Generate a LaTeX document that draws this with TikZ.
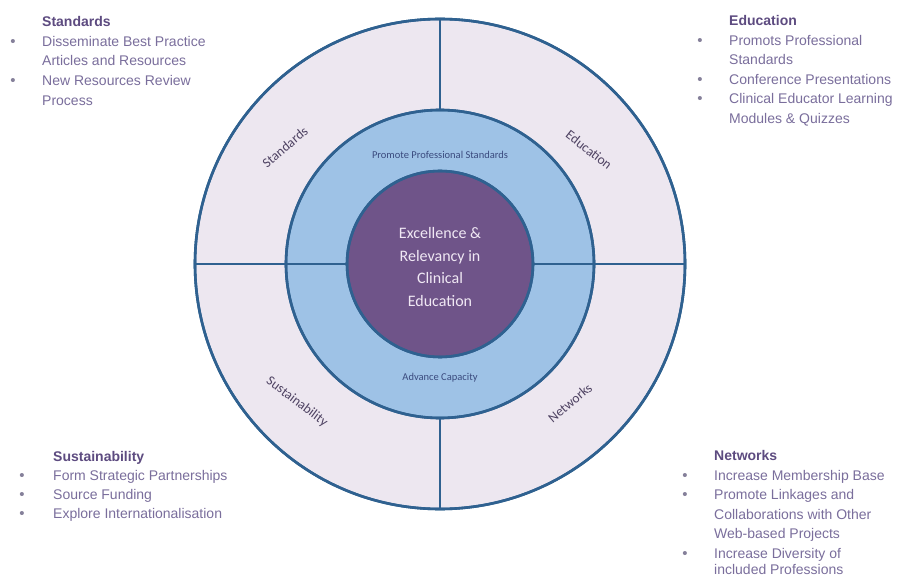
\documentclass[tikz,border=0pt]{standalone}
\usepackage{fontspec}
\setmainfont{Liberation Sans}
\newfontfamily\calfont{Carlito}
\definecolor{ringline}{HTML}{2F6190}
\definecolor{outerfill}{HTML}{EDE7F0}
\definecolor{midfill}{HTML}{9EC2E6}
\definecolor{innerfill}{HTML}{6F5489}
\definecolor{titlecol}{HTML}{5D4B80}
\definecolor{bodycol}{HTML}{7A6E9C}
\definecolor{bulletcol}{HTML}{85809A}
\definecolor{seglabel}{HTML}{4E4262}
\definecolor{ringlabel}{HTML}{3A4A7E}
\definecolor{centertext}{HTML}{F0E8F4}
\begin{document}
\begin{tikzpicture}[x=1pt,y=-1pt,
  ringcircle/.style={circle,draw=ringline,line width=2.6pt,inner sep=0pt},
  divider/.style={draw=ringline,line width=2.6pt},
  seglbl/.style={font=\calfont\fontsize{13.5}{15}\selectfont,text=seglabel,inner sep=0pt},
  ringlbl/.style={font=\calfont\fontsize{10.5}{12}\selectfont,text=ringlabel,inner sep=0pt},
  ttl/.style={anchor=base west,inner sep=0pt,font=\fontsize{14}{16}\selectfont\bfseries,text=titlecol},
  bdy/.style={anchor=base west,inner sep=0pt,font=\fontsize{14}{16}\selectfont,text=bodycol},
  bul/.style={anchor=base,inner sep=0pt,font=\fontsize{15}{16}\selectfont,text=bulletcol}]
\useasboundingbox (0,0) rectangle (897,577);
\fill[white] (0,0) rectangle (897,577);
% circles
\node[ringcircle,fill=outerfill,minimum size=490pt] (outer) at (440,264) {};
\node[ringcircle,fill=midfill,minimum size=308pt] (mid) at (440,264) {};
\node[ringcircle,fill=innerfill,minimum size=186pt] (inner) at (440,264) {};
% dividers
\draw[divider] (outer.north) -- (mid.north);
\draw[divider] (mid.south) -- (outer.south);
\draw[divider] (outer.west) -- (inner.west);
\draw[divider] (inner.east) -- (outer.east);
% redraw circle outlines over divider ends
\node[ringcircle,minimum size=490pt] (outerline) at (440,264) {};
\node[ringcircle,minimum size=308pt] (midline) at (440,264) {};
\node[ringcircle,minimum size=186pt] (innerline) at (440,264) {};
% center text
\node[font=\calfont\fontsize{16}{22.5}\selectfont,text=centertext,align=center] (core) at (440,267)
  {Excellence \&\\Relevancy in\\Clinical\\Education};
% ring labels
\node[ringlbl] (promote) at (440,155) {Promote Professional Standards};
\node[ringlbl] (advance) at (440,378) {Advance Capacity};
% segment labels
\node[seglbl,rotate=40] (lstd) at (285,147) {Standards};
\node[seglbl,rotate=-38] (ledu) at (589,150) {Education};
\node[seglbl,rotate=-37] (lsus) at (297,402) {Sustainability};
\node[seglbl,rotate=40] (lnet) at (570,403) {Networks};
% Standards block
\node[ttl] (st0) at (42,26.5) {Standards};
\node[bul] (sb1) at (13,46.2) {\textbullet};
\node[bdy] (st1) at (42,46.2) {Disseminate Best Practice};
\node[bdy] (st2) at (42,65.9) {Articles and Resources};
\node[bul] (sb2) at (13,85.6) {\textbullet};
\node[bdy] (st3) at (42,85.6) {New Resources Review};
\node[bdy] (st4) at (42,105.3) {Process};
% Education block
\node[ttl] (ed0) at (729,26) {Education};
\node[bul] (eb1) at (700,45.5) {\textbullet};
\node[bdy] (ed1) at (729,45.5) {Promots Professional};
\node[bdy] (ed2) at (729,65) {Standards};
\node[bul] (eb2) at (700,84.5) {\textbullet};
\node[bdy] (ed3) at (729,84.5) {Conference Presentations};
\node[bul] (eb3) at (700,104) {\textbullet};
\node[bdy] (ed4) at (729,104) {Clinical Educator Learning};
\node[bdy] (ed5) at (729,123.5) {Modules \& Quizzes};
% Sustainability block
\node[ttl] (su0) at (53,461) {Sustainability};
\node[bul] (ub1) at (22,480.3) {\textbullet};
\node[bdy] (su1) at (53,480.3) {Form Strategic Partnerships};
\node[bul] (ub2) at (22,499.6) {\textbullet};
\node[bdy] (su2) at (53,499.6) {Source Funding};
\node[bul] (ub3) at (22,518.9) {\textbullet};
\node[bdy] (su3) at (53,518.9) {Explore Internationalisation};
% Networks block
\node[ttl] (nw0) at (714,460.5) {Networks};
\node[bul] (nb1) at (685,480) {\textbullet};
\node[bdy] (nw1) at (714,480) {Increase Membership Base};
\node[bul] (nb2) at (685,499.5) {\textbullet};
\node[bdy] (nw2) at (714,499.5) {Promote Linkages and};
\node[bdy] (nw3) at (714,519) {Collaborations with Other};
\node[bdy] (nw4) at (714,538.5) {Web-based Projects};
\node[bul] (nb3) at (685,558) {\textbullet};
\node[bdy] (nw5) at (714,558) {Increase Diversity of};
\node[bdy] (nw6) at (714,574) {included Professions};
\end{tikzpicture}
\end{document}
